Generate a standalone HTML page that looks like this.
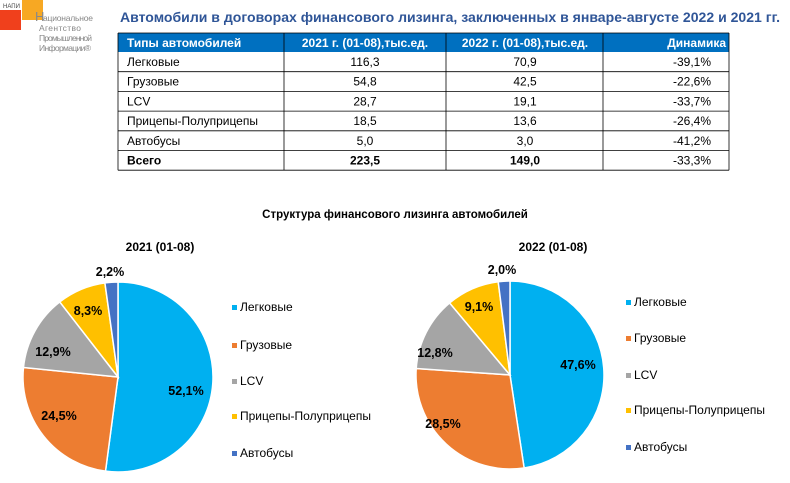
<!DOCTYPE html>
<html><head><meta charset="utf-8">
<style>
body{margin:0;width:790px;height:478px;background:#fff;overflow:hidden;font-family:"Liberation Sans",sans-serif}
svg text{font-family:"Liberation Sans",sans-serif}
</style></head><body>
<svg id="s" width="790" height="478" viewBox="0 0 790 478" xmlns="http://www.w3.org/2000/svg">
<rect x="0" y="10" width="21" height="20" fill="#f0401c"/>
<rect x="22" y="0" width="21" height="20" fill="#f7a823"/>
<text x="3" y="8" font-size="6" fill="#444">НАПИ</text>
<text x="35" y="21" font-size="13" fill="#888">Н</text>
<text x="43" y="21" font-size="8.5" fill="#888" textLength="50">ациональное</text>
<text x="39" y="31" font-size="8.5" fill="#888" textLength="42">Агентство</text>
<text x="39" y="41" font-size="8.5" fill="#888" textLength="53">Промышленной</text>
<text x="39" y="51" font-size="8.5" fill="#888" textLength="52">Информации®</text>
<text x="120" y="22" font-size="13.5" font-weight="bold" fill="#2f5597" textLength="660" lengthAdjust="spacingAndGlyphs">Автомобили в договорах финансового лизинга, заключенных в январе-августе 2022 и 2021 гг.</text>
<g id="tbl"></g>
<text x="395" y="218" font-size="11.5" font-weight="bold" text-anchor="middle" fill="#000">Структура финансового лизинга автомобилей</text>
<text x="160" y="251" font-size="12" font-weight="bold" text-anchor="middle">2021 (01-08)</text>
<text x="553" y="251" font-size="12" font-weight="bold" text-anchor="middle">2022 (01-08)</text>
<g id="p1"></g><g id="p2"></g>
</svg>
<script>
var NS="http://www.w3.org/2000/svg",s=document.getElementById('s');
function el(p,t,a,txt){var e=document.createElementNS(NS,t);for(var k in a)e.setAttribute(k,a[k]);if(txt!=null)e.textContent=txt;p.appendChild(e);return e;}
var T=document.getElementById('tbl');
var cols=[118,284,446,603,729];
el(T,'rect',{x:118,y:33,width:611,height:19,fill:'#0070c0'});
var hd=['Типы автомобилей','2021 г. (01-08),тыс.ед.','2022 г. (01-08),тыс.ед.','Динамика'];
var rows=[['Легковые','116,3','70,9','-39,1%'],['Грузовые','54,8','42,5','-22,6%'],['LCV','28,7','19,1','-33,7%'],['Прицепы-Полуприцепы','18,5','13,6','-26,4%'],['Автобусы','5,0','3,0','-41,2%'],['Всего','223,5','149,0','-33,3%']];
el(T,'text',{x:127,y:47,'font-size':12,'font-weight':'bold',fill:'#fff'},hd[0]);
el(T,'text',{x:365,y:47,'font-size':12,'font-weight':'bold',fill:'#fff','text-anchor':'middle'},hd[1]);
el(T,'text',{x:525,y:47,'font-size':12,'font-weight':'bold',fill:'#fff','text-anchor':'middle'},hd[2]);
el(T,'text',{x:726,y:47,'font-size':12,'font-weight':'bold',fill:'#fff','text-anchor':'end'},hd[3]);
var y0=52,rh=19.7;
for(var i=0;i<rows.length;i++){var y=y0+i*rh,b=i==5;
 var fw=b?'bold':'normal';
 el(T,'text',{x:127,y:y+14,'font-size':12,'font-weight':fw},rows[i][0]);
 el(T,'text',{x:365,y:y+14,'font-size':12,'font-weight':fw,'text-anchor':'middle'},rows[i][1]);
 el(T,'text',{x:525,y:y+14,'font-size':12,'font-weight':fw,'text-anchor':'middle'},rows[i][2]);
 el(T,'text',{x:711,y:y+14,'font-size':12,'text-anchor':'end'},rows[i][3]);
 el(T,'line',{x1:118,x2:729,y1:y+rh,y2:y+rh,stroke:'#000','stroke-width':0.8});
}
var yb=y0+6*rh;
cols.forEach(function(x){el(T,'line',{x1:x,x2:x,y1:33,y2:yb,stroke:'#000','stroke-width':0.8});});
el(T,'line',{x1:118,x2:729,y1:33,y2:33,stroke:'#000','stroke-width':0.8});
var C=['#00b0f0','#ed7d31','#a5a5a5','#ffc000','#4472c4'];
var N=['Легковые','Грузовые','LCV','Прицепы-Полуприцепы','Автобусы'];
function pie(g,cx,cy,r,v,labs,lx,ly){
 var a=0;for(var i=0;i<v.length;i++){var a2=a+v[i]/100*2*Math.PI;
  var x1=cx+r*Math.sin(a),y1=cy-r*Math.cos(a),x2=cx+r*Math.sin(a2),y2=cy-r*Math.cos(a2);
  el(g,'path',{d:'M'+cx+','+cy+'L'+x1+','+y1+'A'+r+','+r+' 0 '+((a2-a)>Math.PI?1:0)+' 1 '+x2+','+y2+'Z',fill:C[i],stroke:'#fff','stroke-width':1.5});
  a=a2;}
 labs.forEach(function(l){el(g,'text',{x:l[1],y:l[2],'font-size':12.5,'font-weight':'bold','text-anchor':'middle'},l[0]);});
 for(var i=0;i<5;i++){var yy=ly[i];el(g,'rect',{x:lx,y:yy-6,width:5,height:5,fill:C[i]});
  el(g,'text',{x:lx+8,y:yy,'font-size':12},N[i]);}
}
pie(document.getElementById('p1'),118,377,95,[52.1,24.5,12.9,8.3,2.2],
 [['52,1%',186,395],['24,5%',59,420],['12,9%',53,356],['8,3%',88,315],['2,2%',110,276]],232,[311,349,385,420,457]);
pie(document.getElementById('p2'),510,375,94,[47.6,28.5,12.8,9.1,2.0],
 [['47,6%',578,369],['28,5%',443,428],['12,8%',435,357],['9,1%',479,311],['2,0%',502,274]],626,[306,342,379,414,451]);
</script>
</body></html>
